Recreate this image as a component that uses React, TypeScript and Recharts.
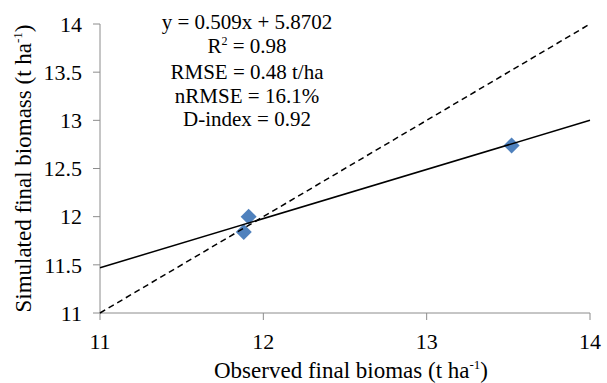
import { ScatterChart, Scatter, XAxis, YAxis } from 'recharts';

const observed = [11.88, 11.91, 13.52];
const simulated = [11.84, 12.0, 12.74];

const lineX = [11, 14];
const fitY = [11.47, 13.0];
const oneToOneY = [11, 14];

const xTicks = [11, 12, 13, 14];
const yTicks = [11, 11.5, 12, 12.5, 13, 13.5, 14];

const statLines = ['y = 0.509x + 5.8702', 'R2', 'RMSE = 0.48 t/ha', 'nRMSE = 16.1%', 'D-index = 0.92'];

const points = observed.map((x, i) => ({ x, y: simulated[i] }));
const fitLine = lineX.map((x, i) => ({ x, y: fitY[i] }));
const oneToOne = lineX.map((x, i) => ({ x, y: oneToOneY[i] }));

const FONT = "'Liberation Serif', serif";
const AXIS = '#8c8c8c';

const Diamond = (props: any) => {
  const { cx, cy } = props;
  const r = 8;
  return (
    <polygon
      points={`${cx},${cy - r} ${cx + r},${cy} ${cx},${cy + r} ${cx - r},${cy}`}
      fill="#4F81BD"
    />
  );
};

const NoDot = () => <g />;

const XTick = (props: any) => {
  const { x, y, payload } = props;
  return (
    <text x={x} y={y} dy="0.71em" textAnchor="middle" fontFamily={FONT} fontSize={22} fill="#000">
      {payload.value}
    </text>
  );
};

const YTick = (props: any) => {
  const { x, y, payload } = props;
  return (
    <text x={x} y={y} dy="0.355em" textAnchor="end" fontFamily={FONT} fontSize={22} fill="#000">
      {payload.value}
    </text>
  );
};

const XTitle = (props: any) => {
  const { x, y, width } = props.viewBox;
  return (
    <text x={x + width / 2 + 6} y={y + 65} textAnchor="middle" fontFamily={FONT} fontSize={23} fill="#000">
      Observed final biomas (t ha
      <tspan dy={-9} fontSize={13}>-1</tspan>
      <tspan dy={9}>)</tspan>
    </text>
  );
};

const YTitle = (props: any) => {
  const { y, height } = props.viewBox;
  const cx = 31;
  const cy = y + height / 2;
  return (
    <text
      x={cx}
      y={cy}
      textAnchor="middle"
      transform={`rotate(-90, ${cx}, ${cy})`}
      fontFamily={FONT}
      fontSize={23}
      fill="#000"
    >
      Simulated final biomass (t ha
      <tspan dy={-9} fontSize={13}>-1</tspan>
      <tspan dy={9}>)</tspan>
    </text>
  );
};

export default function App() {
  return (
    <div
      style={{
        position: 'absolute',
        left: 0,
        top: 0,
        width: 607,
        height: 383,
        background: '#fff',
        fontFamily: FONT,
      }}
    >
      <ScatterChart width={607} height={383} margin={{ top: 24, right: 17, bottom: 0, left: 0 }}>
        <XAxis
          type="number"
          dataKey="x"
          domain={[11, 14]}
          ticks={xTicks}
          height={70}
          stroke={AXIS}
          tickSize={7}
          tickMargin={13}
          tick={<XTick />}
          label={<XTitle />}
        />
        <YAxis
          type="number"
          dataKey="y"
          domain={[11, 14]}
          ticks={yTicks}
          width={100}
          stroke={AXIS}
          tickSize={7}
          tickMargin={11}
          tick={<YTick />}
          label={<YTitle />}
        />
        <Scatter data={points} shape={<Diamond />} isAnimationActive={false} />
        <Scatter
          data={oneToOne}
          line={{ stroke: '#000', strokeWidth: 1.5, strokeDasharray: '6 4' }}
          shape={<NoDot />}
          isAnimationActive={false}
        />
        <Scatter
          data={fitLine}
          line={{ stroke: '#000', strokeWidth: 1.5 }}
          shape={<NoDot />}
          isAnimationActive={false}
        />
      </ScatterChart>
      <div
        style={{
          position: 'absolute',
          left: 147,
          top: 11,
          width: 200,
          textAlign: 'center',
          fontFamily: FONT,
          fontSize: 21,
          lineHeight: '23.5px',
          color: '#000',
        }}
      >
        {statLines.map((s) =>
          s === 'R2' ? (
            <div key={s}>
              R<span style={{ fontSize: 12, position: 'relative', top: -8 }}>2</span> = 0.98
            </div>
          ) : (
            <div key={s}>{s}</div>
          )
        )}
      </div>
    </div>
  );
}
